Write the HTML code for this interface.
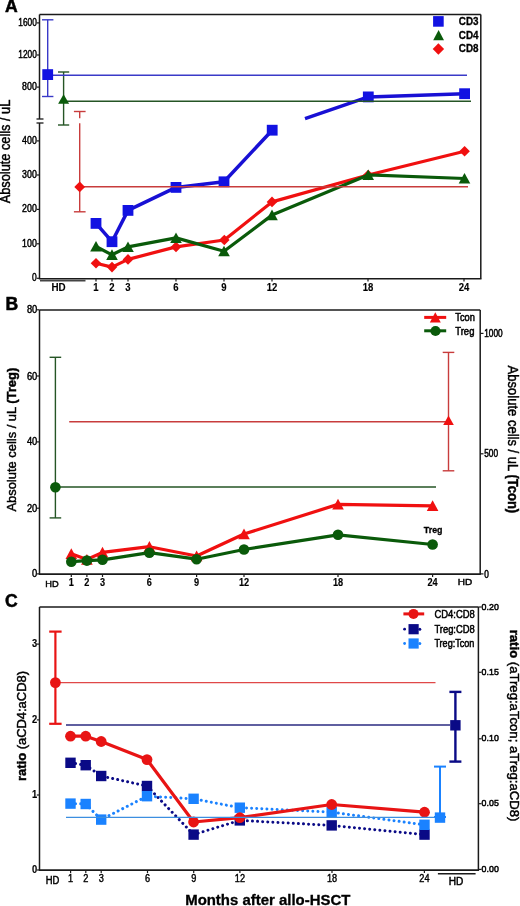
<!DOCTYPE html>
<html><head><meta charset="utf-8"><title>Figure</title>
<style>
html,body{margin:0;padding:0;background:#fff;}
body{width:520px;height:906px;overflow:hidden;font-family:"Liberation Sans", sans-serif;}
svg{display:block;will-change:transform;}
</style></head><body>
<svg width="520" height="906" viewBox="0 0 520 906" font-family='"Liberation Sans", sans-serif'>
<rect width="520" height="906" fill="#fff"/>
<text x="5" y="12.3" font-size="17.6" text-anchor="start" font-weight="bold" fill="#000" stroke="#000" stroke-width="0.5" >A</text>
<line x1="39.5" y1="14.5" x2="480.8" y2="14.5" stroke="#1a1a1a" stroke-width="1.5" />
<line x1="480.8" y1="14.5" x2="480.8" y2="278.5" stroke="#1a1a1a" stroke-width="1.5" />
<line x1="39.5" y1="14.5" x2="39.5" y2="119" stroke="#1a1a1a" stroke-width="1.5" />
<line x1="39.5" y1="123" x2="39.5" y2="278.5" stroke="#1a1a1a" stroke-width="1.5" />
<line x1="38.8" y1="278.8" x2="481.5" y2="278.8" stroke="#1a1a1a" stroke-width="1.6" />
<line x1="36.5" y1="119" x2="43.5" y2="119" stroke="#1a1a1a" stroke-width="1.3" />
<line x1="36.5" y1="123" x2="43.5" y2="123" stroke="#1a1a1a" stroke-width="1.3" />
<line x1="40" y1="280.6" x2="85.5" y2="280.6" stroke="#444" stroke-width="1.6" />
<line x1="36.8" y1="22.9" x2="39.5" y2="22.9" stroke="#1a1a1a" stroke-width="1.2" />
<text x="36.8" y="25.6" font-size="10" text-anchor="end" textLength="18.5" lengthAdjust="spacingAndGlyphs" fill="#000" stroke="#000" stroke-width="0.45" >1600</text>
<line x1="36.8" y1="55" x2="39.5" y2="55" stroke="#1a1a1a" stroke-width="1.2" />
<text x="36.8" y="57.7" font-size="10" text-anchor="end" textLength="18.5" lengthAdjust="spacingAndGlyphs" fill="#000" stroke="#000" stroke-width="0.45" >1200</text>
<line x1="36.8" y1="87.1" x2="39.5" y2="87.1" stroke="#1a1a1a" stroke-width="1.2" />
<text x="36.8" y="89.8" font-size="10" text-anchor="end" textLength="14.7" lengthAdjust="spacingAndGlyphs" fill="#000" stroke="#000" stroke-width="0.45" >800</text>
<line x1="36.8" y1="140.9" x2="39.5" y2="140.9" stroke="#1a1a1a" stroke-width="1.2" />
<text x="36.8" y="143.6" font-size="10" text-anchor="end" textLength="14.7" lengthAdjust="spacingAndGlyphs" fill="#000" stroke="#000" stroke-width="0.45" >400</text>
<line x1="36.8" y1="175" x2="39.5" y2="175" stroke="#1a1a1a" stroke-width="1.2" />
<text x="36.8" y="177.7" font-size="10" text-anchor="end" textLength="14.7" lengthAdjust="spacingAndGlyphs" fill="#000" stroke="#000" stroke-width="0.45" >300</text>
<line x1="36.8" y1="209.4" x2="39.5" y2="209.4" stroke="#1a1a1a" stroke-width="1.2" />
<text x="36.8" y="212.1" font-size="10" text-anchor="end" textLength="14.7" lengthAdjust="spacingAndGlyphs" fill="#000" stroke="#000" stroke-width="0.45" >200</text>
<line x1="36.8" y1="243.8" x2="39.5" y2="243.8" stroke="#1a1a1a" stroke-width="1.2" />
<text x="36.8" y="246.5" font-size="10" text-anchor="end" textLength="14.7" lengthAdjust="spacingAndGlyphs" fill="#000" stroke="#000" stroke-width="0.45" >100</text>
<line x1="36.8" y1="278.3" x2="39.5" y2="278.3" stroke="#1a1a1a" stroke-width="1.2" />
<text x="36.8" y="281" font-size="10" text-anchor="end" textLength="4.7" lengthAdjust="spacingAndGlyphs" fill="#000" stroke="#000" stroke-width="0.45" >0</text>
<line x1="96" y1="278.5" x2="96" y2="281.5" stroke="#1a1a1a" stroke-width="1.2" />
<text x="96" y="290.69" font-size="10.6" text-anchor="middle" font-weight="bold" textLength="5.3" lengthAdjust="spacingAndGlyphs" fill="#000" stroke="#000" stroke-width="0.15" >1</text>
<line x1="112" y1="278.5" x2="112" y2="281.5" stroke="#1a1a1a" stroke-width="1.2" />
<text x="112" y="290.69" font-size="10.6" text-anchor="middle" font-weight="bold" textLength="5.3" lengthAdjust="spacingAndGlyphs" fill="#000" stroke="#000" stroke-width="0.15" >2</text>
<line x1="128" y1="278.5" x2="128" y2="281.5" stroke="#1a1a1a" stroke-width="1.2" />
<text x="128" y="290.69" font-size="10.6" text-anchor="middle" font-weight="bold" textLength="5.3" lengthAdjust="spacingAndGlyphs" fill="#000" stroke="#000" stroke-width="0.15" >3</text>
<line x1="176" y1="278.5" x2="176" y2="281.5" stroke="#1a1a1a" stroke-width="1.2" />
<text x="176" y="290.69" font-size="10.6" text-anchor="middle" font-weight="bold" textLength="5.3" lengthAdjust="spacingAndGlyphs" fill="#000" stroke="#000" stroke-width="0.15" >6</text>
<line x1="224" y1="278.5" x2="224" y2="281.5" stroke="#1a1a1a" stroke-width="1.2" />
<text x="224" y="290.69" font-size="10.6" text-anchor="middle" font-weight="bold" textLength="5.3" lengthAdjust="spacingAndGlyphs" fill="#000" stroke="#000" stroke-width="0.15" >9</text>
<line x1="272" y1="278.5" x2="272" y2="281.5" stroke="#1a1a1a" stroke-width="1.2" />
<text x="272" y="290.69" font-size="10.6" text-anchor="middle" font-weight="bold" textLength="10.6" lengthAdjust="spacingAndGlyphs" fill="#000" stroke="#000" stroke-width="0.15" >12</text>
<line x1="368" y1="278.5" x2="368" y2="281.5" stroke="#1a1a1a" stroke-width="1.2" />
<text x="368" y="290.69" font-size="10.6" text-anchor="middle" font-weight="bold" textLength="10.6" lengthAdjust="spacingAndGlyphs" fill="#000" stroke="#000" stroke-width="0.15" >18</text>
<line x1="464" y1="278.5" x2="464" y2="281.5" stroke="#1a1a1a" stroke-width="1.2" />
<text x="464" y="290.69" font-size="10.6" text-anchor="middle" font-weight="bold" textLength="10.6" lengthAdjust="spacingAndGlyphs" fill="#000" stroke="#000" stroke-width="0.15" >24</text>
<text x="58.5" y="291.02" font-size="10.4" text-anchor="middle" font-weight="bold" textLength="14.2" lengthAdjust="spacingAndGlyphs" fill="#000" stroke="#000" stroke-width="0.1" >HD</text>
<text transform="translate(9.8,151.5) rotate(-90)" font-size="14" text-anchor="middle" textLength="103.5" lengthAdjust="spacingAndGlyphs" stroke="#000" stroke-width="0.45">Absolute cells / uL</text>
<line x1="47.7" y1="19.8" x2="47.7" y2="96.5" stroke="#3a3ac8" stroke-width="1.4" />
<line x1="42" y1="19.8" x2="53.4" y2="19.8" stroke="#3a3ac8" stroke-width="1.4" />
<line x1="42" y1="96.5" x2="53.4" y2="96.5" stroke="#3a3ac8" stroke-width="1.4" />
<line x1="63.6" y1="72" x2="63.6" y2="125" stroke="#255525" stroke-width="1.4" />
<line x1="58" y1="72" x2="69.2" y2="72" stroke="#255525" stroke-width="1.4" />
<line x1="58" y1="125" x2="69.2" y2="125" stroke="#255525" stroke-width="1.4" />
<line x1="79.7" y1="111.5" x2="79.7" y2="118.3" stroke="#c83c3c" stroke-width="1.4" />
<line x1="79.7" y1="123.2" x2="79.7" y2="211.8" stroke="#c83c3c" stroke-width="1.4" />
<line x1="73.9" y1="111.5" x2="85.6" y2="111.5" stroke="#c83c3c" stroke-width="1.4" />
<line x1="73.9" y1="211.8" x2="85.6" y2="211.8" stroke="#c83c3c" stroke-width="1.4" />
<polyline points="96,263.3 112,267.1 128,259.4 176,246.9 224.3,240 272,201.9 368.2,175 464.6,151.2" fill="none" stroke="#f01010" stroke-width="3.2" stroke-linejoin="round" />
<polygon points="96,258 101.3,263.3 96,268.6 90.7,263.3" fill="#f01010"/>
<polygon points="112,261.8 117.3,267.1 112,272.4 106.7,267.1" fill="#f01010"/>
<polygon points="128,254.1 133.3,259.4 128,264.7 122.7,259.4" fill="#f01010"/>
<polygon points="176,241.6 181.3,246.9 176,252.2 170.7,246.9" fill="#f01010"/>
<polygon points="224.3,234.7 229.6,240 224.3,245.3 219,240" fill="#f01010"/>
<polygon points="272,196.6 277.3,201.9 272,207.2 266.7,201.9" fill="#f01010"/>
<polygon points="368.2,169.7 373.5,175 368.2,180.3 362.9,175" fill="#f01010"/>
<polygon points="464.6,145.9 469.9,151.2 464.6,156.5 459.3,151.2" fill="#f01010"/>
<polyline points="96,246.5 112,254.8 128,246.9 176,237.9 224,251.2 272,215.1 368.2,174.9 464.5,178.5" fill="none" stroke="#0a5a0a" stroke-width="3.2" stroke-linejoin="round" />
<polygon points="96,240.99 101.8,251.59 90.2,251.59" fill="#0a5a0a"/>
<polygon points="112,249.29 117.8,259.89 106.2,259.89" fill="#0a5a0a"/>
<polygon points="128,241.39 133.8,251.99 122.2,251.99" fill="#0a5a0a"/>
<polygon points="176,232.39 181.8,242.99 170.2,242.99" fill="#0a5a0a"/>
<polygon points="224,245.69 229.8,256.29 218.2,256.29" fill="#0a5a0a"/>
<polygon points="272,209.59 277.8,220.19 266.2,220.19" fill="#0a5a0a"/>
<polygon points="368.2,169.39 374,179.99 362.4,179.99" fill="#0a5a0a"/>
<polygon points="464.5,172.99 470.3,183.59 458.7,183.59" fill="#0a5a0a"/>
<polyline points="96,223.4 112,241.7 128,210.4 176,187.4 224,181.8 272.2,130.2" fill="none" stroke="#1810d4" stroke-width="3.5" stroke-linejoin="round" />
<polyline points="305,118.6 368.3,96.9 464.6,93.7" fill="none" stroke="#1810d4" stroke-width="3.5" stroke-linejoin="round" />
<rect x="90.6" y="218" width="10.8" height="10.8" fill="#1212e2"/>
<rect x="106.6" y="236.3" width="10.8" height="10.8" fill="#1212e2"/>
<rect x="122.6" y="205" width="10.8" height="10.8" fill="#1212e2"/>
<rect x="170.6" y="182" width="10.8" height="10.8" fill="#1212e2"/>
<rect x="218.6" y="176.4" width="10.8" height="10.8" fill="#1212e2"/>
<rect x="266.8" y="124.8" width="10.8" height="10.8" fill="#1212e2"/>
<rect x="362.9" y="91.5" width="10.8" height="10.8" fill="#1212e2"/>
<rect x="459.2" y="88.3" width="10.8" height="10.8" fill="#1212e2"/>
<line x1="47.7" y1="75.2" x2="467" y2="75.2" stroke="#3a3ac8" stroke-width="1.4" />
<line x1="63.6" y1="101.3" x2="471" y2="101.3" stroke="#255525" stroke-width="1.4" />
<line x1="79.7" y1="186.7" x2="468" y2="186.7" stroke="#c83c3c" stroke-width="1.4" />
<rect x="42.3" y="69.2" width="10.8" height="10.8" fill="#1212e2"/>
<polygon points="63.6,94.2 69.1,103.8 58.1,103.8" fill="#0a5a0a"/>
<polygon points="79.7,181.5 85.1,186.9 79.7,192.3 74.3,186.9" fill="#f01010"/>
<rect x="433.1" y="16.1" width="10.6" height="10.6" fill="#1212e2"/>
<polygon points="438.6,30.1 444,40.3 433.2,40.3" fill="#0a5a0a"/>
<polygon points="438.4,43.3 444.1,49 438.4,54.7 432.7,49" fill="#f01010"/>
<text x="458.8" y="25.08" font-size="10" text-anchor="start" font-weight="bold" textLength="19.7" lengthAdjust="spacingAndGlyphs" fill="#000" stroke="#000" stroke-width="0.3" >CD3</text>
<text x="458.8" y="38.58" font-size="10" text-anchor="start" font-weight="bold" textLength="19.7" lengthAdjust="spacingAndGlyphs" fill="#000" stroke="#000" stroke-width="0.3" >CD4</text>
<text x="458.8" y="52.18" font-size="10" text-anchor="start" font-weight="bold" textLength="19.7" lengthAdjust="spacingAndGlyphs" fill="#000" stroke="#000" stroke-width="0.3" >CD8</text>
<text x="5.6" y="310.3" font-size="17.6" text-anchor="start" font-weight="bold" fill="#000" stroke="#000" stroke-width="0.5" >B</text>
<line x1="39.5" y1="310" x2="480.2" y2="310" stroke="#1a1a1a" stroke-width="1.5" />
<line x1="39.5" y1="310" x2="39.5" y2="574" stroke="#1a1a1a" stroke-width="1.5" />
<line x1="480.2" y1="310" x2="480.2" y2="574" stroke="#1a1a1a" stroke-width="1.5" />
<line x1="38.8" y1="574.1" x2="480.9" y2="574.1" stroke="#1a1a1a" stroke-width="1.7" />
<line x1="36.8" y1="309.8" x2="39.5" y2="309.8" stroke="#1a1a1a" stroke-width="1.2" />
<text x="37.3" y="313.3" font-size="10.4" text-anchor="end" textLength="10.4" lengthAdjust="spacingAndGlyphs" fill="#000" stroke="#000" stroke-width="0.45" >80</text>
<line x1="36.8" y1="376" x2="39.5" y2="376" stroke="#1a1a1a" stroke-width="1.2" />
<text x="37.3" y="379.5" font-size="10.4" text-anchor="end" textLength="10.4" lengthAdjust="spacingAndGlyphs" fill="#000" stroke="#000" stroke-width="0.45" >60</text>
<line x1="36.8" y1="441.9" x2="39.5" y2="441.9" stroke="#1a1a1a" stroke-width="1.2" />
<text x="37.3" y="445.4" font-size="10.4" text-anchor="end" textLength="10.4" lengthAdjust="spacingAndGlyphs" fill="#000" stroke="#000" stroke-width="0.45" >40</text>
<line x1="36.8" y1="508.2" x2="39.5" y2="508.2" stroke="#1a1a1a" stroke-width="1.2" />
<text x="37.3" y="511.7" font-size="10.4" text-anchor="end" textLength="10.4" lengthAdjust="spacingAndGlyphs" fill="#000" stroke="#000" stroke-width="0.45" >20</text>
<line x1="36.8" y1="573.9" x2="39.5" y2="573.9" stroke="#1a1a1a" stroke-width="1.2" />
<text x="37.3" y="577.4" font-size="10.4" text-anchor="end" textLength="5.2" lengthAdjust="spacingAndGlyphs" fill="#000" stroke="#000" stroke-width="0.45" >0</text>
<line x1="480.2" y1="333.4" x2="483.5" y2="333.4" stroke="#1a1a1a" stroke-width="1.2" />
<text x="484.2" y="337" font-size="10" text-anchor="start" textLength="18.4" lengthAdjust="spacingAndGlyphs" fill="#000" stroke="#000" stroke-width="0.5" >1000</text>
<line x1="480.2" y1="453.8" x2="483.5" y2="453.8" stroke="#1a1a1a" stroke-width="1.2" />
<text x="484.2" y="457.4" font-size="10" text-anchor="start" textLength="13.8" lengthAdjust="spacingAndGlyphs" fill="#000" stroke="#000" stroke-width="0.5" >500</text>
<line x1="480.2" y1="573.9" x2="483.5" y2="573.9" stroke="#1a1a1a" stroke-width="1.2" />
<text x="484.2" y="577.5" font-size="10" text-anchor="start" textLength="4.6" lengthAdjust="spacingAndGlyphs" fill="#000" stroke="#000" stroke-width="0.5" >0</text>
<line x1="71.3" y1="574" x2="71.3" y2="577" stroke="#1a1a1a" stroke-width="1.2" />
<text x="71.3" y="585.9" font-size="10.4" text-anchor="middle" font-weight="bold" textLength="5.1" lengthAdjust="spacingAndGlyphs" fill="#000" stroke="#000" stroke-width="0.15" >1</text>
<line x1="86.9" y1="574" x2="86.9" y2="577" stroke="#1a1a1a" stroke-width="1.2" />
<text x="86.9" y="585.9" font-size="10.4" text-anchor="middle" font-weight="bold" textLength="5.1" lengthAdjust="spacingAndGlyphs" fill="#000" stroke="#000" stroke-width="0.15" >2</text>
<line x1="102.5" y1="574" x2="102.5" y2="577" stroke="#1a1a1a" stroke-width="1.2" />
<text x="102.5" y="585.9" font-size="10.4" text-anchor="middle" font-weight="bold" textLength="5.1" lengthAdjust="spacingAndGlyphs" fill="#000" stroke="#000" stroke-width="0.15" >3</text>
<line x1="149.4" y1="574" x2="149.4" y2="577" stroke="#1a1a1a" stroke-width="1.2" />
<text x="149.4" y="585.9" font-size="10.4" text-anchor="middle" font-weight="bold" textLength="5.1" lengthAdjust="spacingAndGlyphs" fill="#000" stroke="#000" stroke-width="0.15" >6</text>
<line x1="196.6" y1="574" x2="196.6" y2="577" stroke="#1a1a1a" stroke-width="1.2" />
<text x="196.6" y="585.9" font-size="10.4" text-anchor="middle" font-weight="bold" textLength="5.1" lengthAdjust="spacingAndGlyphs" fill="#000" stroke="#000" stroke-width="0.15" >9</text>
<line x1="244" y1="574" x2="244" y2="577" stroke="#1a1a1a" stroke-width="1.2" />
<text x="244" y="585.9" font-size="10.4" text-anchor="middle" font-weight="bold" textLength="10.2" lengthAdjust="spacingAndGlyphs" fill="#000" stroke="#000" stroke-width="0.15" >12</text>
<line x1="338" y1="574" x2="338" y2="577" stroke="#1a1a1a" stroke-width="1.2" />
<text x="338" y="585.9" font-size="10.4" text-anchor="middle" font-weight="bold" textLength="10.2" lengthAdjust="spacingAndGlyphs" fill="#000" stroke="#000" stroke-width="0.15" >18</text>
<line x1="432.6" y1="574" x2="432.6" y2="577" stroke="#1a1a1a" stroke-width="1.2" />
<text x="432.6" y="585.9" font-size="10.4" text-anchor="middle" font-weight="bold" textLength="10.2" lengthAdjust="spacingAndGlyphs" fill="#000" stroke="#000" stroke-width="0.15" >24</text>
<text x="51.9" y="587.11" font-size="9.8" text-anchor="middle" textLength="13.4" lengthAdjust="spacingAndGlyphs" fill="#000" stroke="#000" stroke-width="0.45" >HD</text>
<text x="465" y="585.44" font-size="9.6" text-anchor="middle" textLength="14.5" lengthAdjust="spacingAndGlyphs" fill="#000" stroke="#000" stroke-width="0.45" >HD</text>
<text transform="translate(16,439.7) rotate(-90)" font-size="13.6" text-anchor="middle" textLength="143.8" lengthAdjust="spacingAndGlyphs" stroke="#000" stroke-width="0.45">Absolute cells / uL <tspan font-weight="bold">(Treg)</tspan></text>
<text transform="translate(508.3,439.4) rotate(90)" font-size="14" text-anchor="middle" textLength="147.6" lengthAdjust="spacingAndGlyphs" stroke="#000" stroke-width="0.45">Absolute cells / uL <tspan font-weight="bold">(Tcon)</tspan></text>
<line x1="69.2" y1="421.8" x2="448.5" y2="421.8" stroke="#c83c3c" stroke-width="1.4" />
<line x1="55.4" y1="487" x2="436" y2="487" stroke="#255525" stroke-width="1.4" />
<line x1="55.4" y1="357.3" x2="55.4" y2="517.9" stroke="#255525" stroke-width="1.4" />
<line x1="49.6" y1="357.3" x2="61.2" y2="357.3" stroke="#255525" stroke-width="1.4" />
<line x1="49.6" y1="517.9" x2="61.2" y2="517.9" stroke="#255525" stroke-width="1.4" />
<line x1="448.5" y1="352.4" x2="448.5" y2="470.8" stroke="#c83c3c" stroke-width="1.4" />
<line x1="442.7" y1="352.4" x2="454.3" y2="352.4" stroke="#c83c3c" stroke-width="1.4" />
<line x1="442.7" y1="470.8" x2="454.3" y2="470.8" stroke="#c83c3c" stroke-width="1.4" />
<circle cx="55.4" cy="487.3" r="5.3" fill="#0a5a0a"/>
<polygon points="448.5,415.53 453.8,424.93 443.2,424.93" fill="#f01010"/>
<polyline points="71.3,553.8 86.9,559.5 102.5,552.4 149.4,546.7 196.6,556 244,534 338,504.4 432.6,505.8" fill="none" stroke="#f01010" stroke-width="3.2" stroke-linejoin="round" />
<polygon points="71.3,548.18 77.1,558.98 65.5,558.98" fill="#f01010"/>
<polygon points="86.9,553.88 92.7,564.68 81.1,564.68" fill="#f01010"/>
<polygon points="102.5,546.78 108.3,557.58 96.7,557.58" fill="#f01010"/>
<polygon points="149.4,541.08 155.2,551.88 143.6,551.88" fill="#f01010"/>
<polygon points="196.6,550.38 202.4,561.18 190.8,561.18" fill="#f01010"/>
<polygon points="244,528.38 249.8,539.18 238.2,539.18" fill="#f01010"/>
<polygon points="338,498.78 343.8,509.58 332.2,509.58" fill="#f01010"/>
<polygon points="432.6,500.18 438.4,510.98 426.8,510.98" fill="#f01010"/>
<polyline points="71.3,561.7 86.9,560.6 102.5,559.8 149.4,552.7 196.6,559.2 244,549.5 338,534.8 432.6,544.5" fill="none" stroke="#0a5a0a" stroke-width="3.2" stroke-linejoin="round" />
<circle cx="71.3" cy="561.7" r="5.3" fill="#0a5a0a"/>
<circle cx="86.9" cy="560.6" r="5.3" fill="#0a5a0a"/>
<circle cx="102.5" cy="559.8" r="5.3" fill="#0a5a0a"/>
<circle cx="149.4" cy="552.7" r="5.3" fill="#0a5a0a"/>
<circle cx="196.6" cy="559.2" r="5.3" fill="#0a5a0a"/>
<circle cx="244" cy="549.5" r="5.3" fill="#0a5a0a"/>
<circle cx="338" cy="534.8" r="5.3" fill="#0a5a0a"/>
<circle cx="432.6" cy="544.5" r="5.3" fill="#0a5a0a"/>
<text x="423.8" y="532.6" font-size="9.2" text-anchor="start" font-weight="bold" textLength="18.7" lengthAdjust="spacingAndGlyphs" fill="#000" stroke="#000" stroke-width="0.3" >Treg</text>
<line x1="424.2" y1="317.4" x2="446.2" y2="317.4" stroke="#f01010" stroke-width="3" />
<polygon points="435.3,312.3 440.8,322.5 429.8,322.5" fill="#f01010"/>
<text x="455.3" y="320.65" font-size="10.2" text-anchor="start" textLength="19.6" lengthAdjust="spacingAndGlyphs" fill="#000" stroke="#000" stroke-width="0.5" >Tcon</text>
<line x1="424.2" y1="330.8" x2="446.2" y2="330.8" stroke="#0a5a0a" stroke-width="3" />
<circle cx="435.5" cy="331" r="5.1" fill="#0a5a0a"/>
<text x="455.3" y="334.6" font-size="10.2" text-anchor="start" textLength="19.1" lengthAdjust="spacingAndGlyphs" fill="#000" stroke="#000" stroke-width="0.5" >Treg</text>
<text x="5.1" y="606.5" font-size="17.6" text-anchor="start" font-weight="bold" fill="#000" stroke="#000" stroke-width="0.5" >C</text>
<line x1="39.5" y1="607" x2="478.4" y2="607" stroke="#1a1a1a" stroke-width="1.5" />
<line x1="39.5" y1="607" x2="39.5" y2="870" stroke="#1a1a1a" stroke-width="1.5" />
<line x1="478.4" y1="607" x2="478.4" y2="870" stroke="#1a1a1a" stroke-width="1.5" />
<line x1="38.8" y1="870.1" x2="479.1" y2="870.1" stroke="#1a1a1a" stroke-width="1.7" />
<line x1="36.8" y1="644.1" x2="39.5" y2="644.1" stroke="#1a1a1a" stroke-width="1.2" />
<text x="37.1" y="647.25" font-size="10.2" text-anchor="end" font-weight="bold" textLength="5.2" lengthAdjust="spacingAndGlyphs" fill="#000" stroke="#000" stroke-width="0.15" >3</text>
<line x1="36.8" y1="719.9" x2="39.5" y2="719.9" stroke="#1a1a1a" stroke-width="1.2" />
<text x="37.1" y="723.05" font-size="10.2" text-anchor="end" font-weight="bold" textLength="5.2" lengthAdjust="spacingAndGlyphs" fill="#000" stroke="#000" stroke-width="0.15" >2</text>
<line x1="36.8" y1="795" x2="39.5" y2="795" stroke="#1a1a1a" stroke-width="1.2" />
<text x="37.1" y="798.15" font-size="10.2" text-anchor="end" font-weight="bold" textLength="5.2" lengthAdjust="spacingAndGlyphs" fill="#000" stroke="#000" stroke-width="0.15" >1</text>
<line x1="36.8" y1="870" x2="39.5" y2="870" stroke="#1a1a1a" stroke-width="1.2" />
<text x="37.1" y="873.15" font-size="10.2" text-anchor="end" font-weight="bold" textLength="5.2" lengthAdjust="spacingAndGlyphs" fill="#000" stroke="#000" stroke-width="0.15" >0</text>
<line x1="478.4" y1="607" x2="481.5" y2="607" stroke="#1a1a1a" stroke-width="1.2" />
<text x="481.6" y="609.67" font-size="9.4" text-anchor="start" textLength="17.2" lengthAdjust="spacingAndGlyphs" fill="#000" stroke="#000" stroke-width="0.5" >0.20</text>
<line x1="478.4" y1="672.3" x2="481.5" y2="672.3" stroke="#1a1a1a" stroke-width="1.2" />
<text x="481.6" y="674.97" font-size="9.4" text-anchor="start" textLength="17.2" lengthAdjust="spacingAndGlyphs" fill="#000" stroke="#000" stroke-width="0.5" >0.15</text>
<line x1="478.4" y1="738.8" x2="481.5" y2="738.8" stroke="#1a1a1a" stroke-width="1.2" />
<text x="481.6" y="741.47" font-size="9.4" text-anchor="start" textLength="17.2" lengthAdjust="spacingAndGlyphs" fill="#000" stroke="#000" stroke-width="0.5" >0.10</text>
<line x1="478.4" y1="803.7" x2="481.5" y2="803.7" stroke="#1a1a1a" stroke-width="1.2" />
<text x="481.6" y="806.37" font-size="9.4" text-anchor="start" textLength="17.2" lengthAdjust="spacingAndGlyphs" fill="#000" stroke="#000" stroke-width="0.5" >0.05</text>
<line x1="478.4" y1="869.4" x2="481.5" y2="869.4" stroke="#1a1a1a" stroke-width="1.2" />
<text x="481.6" y="872.07" font-size="9.4" text-anchor="start" textLength="17.2" lengthAdjust="spacingAndGlyphs" fill="#000" stroke="#000" stroke-width="0.5" >0.00</text>
<line x1="70.6" y1="870" x2="70.6" y2="873" stroke="#1a1a1a" stroke-width="1.2" />
<text x="70.6" y="882.2" font-size="10.2" text-anchor="middle" textLength="5.1" lengthAdjust="spacingAndGlyphs" fill="#000" stroke="#000" stroke-width="0.4" >1</text>
<line x1="85.8" y1="870" x2="85.8" y2="873" stroke="#1a1a1a" stroke-width="1.2" />
<text x="85.8" y="882.2" font-size="10.2" text-anchor="middle" textLength="5.1" lengthAdjust="spacingAndGlyphs" fill="#000" stroke="#000" stroke-width="0.4" >2</text>
<line x1="101.2" y1="870" x2="101.2" y2="873" stroke="#1a1a1a" stroke-width="1.2" />
<text x="101.2" y="882.2" font-size="10.2" text-anchor="middle" textLength="5.1" lengthAdjust="spacingAndGlyphs" fill="#000" stroke="#000" stroke-width="0.4" >3</text>
<line x1="147.5" y1="870" x2="147.5" y2="873" stroke="#1a1a1a" stroke-width="1.2" />
<text x="147.5" y="882.2" font-size="10.2" text-anchor="middle" textLength="5.1" lengthAdjust="spacingAndGlyphs" fill="#000" stroke="#000" stroke-width="0.4" >6</text>
<line x1="193.7" y1="870" x2="193.7" y2="873" stroke="#1a1a1a" stroke-width="1.2" />
<text x="193.7" y="882.2" font-size="10.2" text-anchor="middle" textLength="5.1" lengthAdjust="spacingAndGlyphs" fill="#000" stroke="#000" stroke-width="0.4" >9</text>
<line x1="239.9" y1="870" x2="239.9" y2="873" stroke="#1a1a1a" stroke-width="1.2" />
<text x="239.9" y="882.2" font-size="10.2" text-anchor="middle" textLength="10.2" lengthAdjust="spacingAndGlyphs" fill="#000" stroke="#000" stroke-width="0.4" >12</text>
<line x1="332" y1="870" x2="332" y2="873" stroke="#1a1a1a" stroke-width="1.2" />
<text x="332" y="882.2" font-size="10.2" text-anchor="middle" textLength="10.2" lengthAdjust="spacingAndGlyphs" fill="#000" stroke="#000" stroke-width="0.4" >18</text>
<line x1="424.4" y1="870" x2="424.4" y2="873" stroke="#1a1a1a" stroke-width="1.2" />
<text x="424.4" y="882.2" font-size="10.2" text-anchor="middle" textLength="10.2" lengthAdjust="spacingAndGlyphs" fill="#000" stroke="#000" stroke-width="0.4" >24</text>
<text x="52.5" y="883.58" font-size="10" text-anchor="middle" textLength="13.6" lengthAdjust="spacingAndGlyphs" fill="#000" stroke="#000" stroke-width="0.45" >HD</text>
<line x1="437.9" y1="873.8" x2="475.6" y2="873.8" stroke="#1a1a1a" stroke-width="1.5" />
<text x="456" y="885.28" font-size="10" text-anchor="middle" textLength="14.6" lengthAdjust="spacingAndGlyphs" fill="#000" stroke="#000" stroke-width="0.45" >HD</text>
<text transform="translate(26,726) rotate(-90)" font-size="13.2" text-anchor="middle" textLength="110" lengthAdjust="spacingAndGlyphs" stroke="#000" stroke-width="0.45"><tspan font-weight="bold">ratio</tspan> (aCD4:aCD8)</text>
<text transform="translate(510,725.5) rotate(90)" font-size="12.8" text-anchor="middle" textLength="191.6" lengthAdjust="spacingAndGlyphs" stroke="#000" stroke-width="0.45"><tspan font-weight="bold">ratio</tspan> (aTreg:aTcon; aTreg:aCD8)</text>
<text x="185.2" y="904.8" font-size="14.6" text-anchor="start" font-weight="bold" textLength="165.1" lengthAdjust="spacingAndGlyphs" fill="#000" stroke="#000" stroke-width="0.3" >Months after allo-HSCT</text>
<line x1="55.4" y1="631.6" x2="55.4" y2="723.8" stroke="#e81414" stroke-width="2.2" />
<line x1="49.2" y1="631.6" x2="61.6" y2="631.6" stroke="#e81414" stroke-width="2.2" />
<line x1="49.2" y1="723.8" x2="61.6" y2="723.8" stroke="#e81414" stroke-width="2.2" />
<line x1="455.4" y1="691.9" x2="455.4" y2="761.6" stroke="#0a0a86" stroke-width="2.4" />
<line x1="449.4" y1="691.9" x2="461.4" y2="691.9" stroke="#0a0a86" stroke-width="2.4" />
<line x1="449.4" y1="761.6" x2="461.4" y2="761.6" stroke="#0a0a86" stroke-width="2.4" />
<line x1="440" y1="766.6" x2="440" y2="817" stroke="#1a82ff" stroke-width="2.0" />
<line x1="434" y1="766.6" x2="446" y2="766.6" stroke="#1a82ff" stroke-width="2.0" />
<line x1="434" y1="817" x2="446" y2="817" stroke="#1a82ff" stroke-width="2.0" />
<polyline points="70.5,762.8 85.7,765.2 101.2,776 147,786 193.6,834.6 239.8,820.4 331.7,825.4 424.5,834.6" fill="none" stroke="#0a0a86" stroke-width="3.0" stroke-linejoin="round" stroke-dasharray="0.01 5.1" stroke-linecap="round"/>
<rect x="65.3" y="757.6" width="10.4" height="10.4" fill="#0a0a86"/>
<rect x="80.5" y="760" width="10.4" height="10.4" fill="#0a0a86"/>
<rect x="96" y="770.8" width="10.4" height="10.4" fill="#0a0a86"/>
<rect x="141.8" y="780.8" width="10.4" height="10.4" fill="#0a0a86"/>
<rect x="188.4" y="829.4" width="10.4" height="10.4" fill="#0a0a86"/>
<rect x="234.6" y="815.2" width="10.4" height="10.4" fill="#0a0a86"/>
<rect x="326.5" y="820.2" width="10.4" height="10.4" fill="#0a0a86"/>
<rect x="419.3" y="829.4" width="10.4" height="10.4" fill="#0a0a86"/>
<polyline points="70.5,803.6 85.7,804 101.2,819.6 147,796.2 193.6,798.8 239.8,807.7 331.7,812.2 424.5,824.8" fill="none" stroke="#1a82ff" stroke-width="3.0" stroke-linejoin="round" stroke-dasharray="0.01 5.1" stroke-linecap="round"/>
<rect x="65.3" y="798.4" width="10.4" height="10.4" fill="#1a82ff"/>
<rect x="80.5" y="798.8" width="10.4" height="10.4" fill="#1a82ff"/>
<rect x="96" y="814.4" width="10.4" height="10.4" fill="#1a82ff"/>
<rect x="141.8" y="791" width="10.4" height="10.4" fill="#1a82ff"/>
<rect x="188.4" y="793.6" width="10.4" height="10.4" fill="#1a82ff"/>
<rect x="234.6" y="802.5" width="10.4" height="10.4" fill="#1a82ff"/>
<rect x="326.5" y="807" width="10.4" height="10.4" fill="#1a82ff"/>
<rect x="419.3" y="819.6" width="10.4" height="10.4" fill="#1a82ff"/>
<polyline points="70.5,736.2 85.7,736.2 101.2,741.5 147,759.6 193.6,822 239.8,817.7 331.7,804.5 424.5,812.2" fill="none" stroke="#e81414" stroke-width="3.2" stroke-linejoin="round" />
<circle cx="70.5" cy="736.2" r="5.4" fill="#e81414"/>
<circle cx="85.7" cy="736.2" r="5.4" fill="#e81414"/>
<circle cx="101.2" cy="741.5" r="5.4" fill="#e81414"/>
<circle cx="147" cy="759.6" r="5.4" fill="#e81414"/>
<circle cx="193.6" cy="822" r="5.4" fill="#e81414"/>
<circle cx="239.8" cy="817.7" r="5.4" fill="#e81414"/>
<circle cx="331.7" cy="804.5" r="5.4" fill="#e81414"/>
<circle cx="424.5" cy="812.2" r="5.4" fill="#e81414"/>
<line x1="55.4" y1="682.6" x2="435.5" y2="682.6" stroke="#e04848" stroke-width="1.4" />
<line x1="66" y1="725" x2="450" y2="725" stroke="#2a2a80" stroke-width="1.4" />
<line x1="66" y1="817.4" x2="437" y2="817.4" stroke="#3c8ee0" stroke-width="1.4" />
<circle cx="55.4" cy="682.6" r="5.4" fill="#e81414"/>
<rect x="450.2" y="720.1" width="10.4" height="10.4" fill="#0a0a86"/>
<rect x="434.8" y="812.4" width="10.4" height="10.4" fill="#1a82ff"/>
<line x1="403.4" y1="613.9" x2="424.2" y2="613.9" stroke="#e81414" stroke-width="3" />
<circle cx="413.5" cy="613.9" r="5" fill="#e81414"/>
<circle cx="404.6" cy="629.2" r="1.4" fill="#0a0a86"/>
<circle cx="419.8" cy="629.2" r="1.5" fill="#0a0a86"/>
<rect x="408.5" y="624.1" width="10.2" height="10.2" fill="#0a0a86"/>
<circle cx="404.6" cy="643.5" r="1.4" fill="#1a82ff"/>
<circle cx="419.8" cy="643.5" r="1.5" fill="#1a82ff"/>
<rect x="408.5" y="638.4" width="10.2" height="10.2" fill="#1a82ff"/>
<text x="434.4" y="617.72" font-size="10.4" text-anchor="start" textLength="40.4" lengthAdjust="spacingAndGlyphs" fill="#000" stroke="#000" stroke-width="0.5" >CD4:CD8</text>
<text x="434.4" y="632.5" font-size="10.4" text-anchor="start" textLength="40.4" lengthAdjust="spacingAndGlyphs" fill="#000" stroke="#000" stroke-width="0.5" >Treg:CD8</text>
<text x="434.4" y="646.8" font-size="10.4" text-anchor="start" textLength="40" lengthAdjust="spacingAndGlyphs" fill="#000" stroke="#000" stroke-width="0.5" >Treg:Tcon</text>
</svg>
</body></html>
